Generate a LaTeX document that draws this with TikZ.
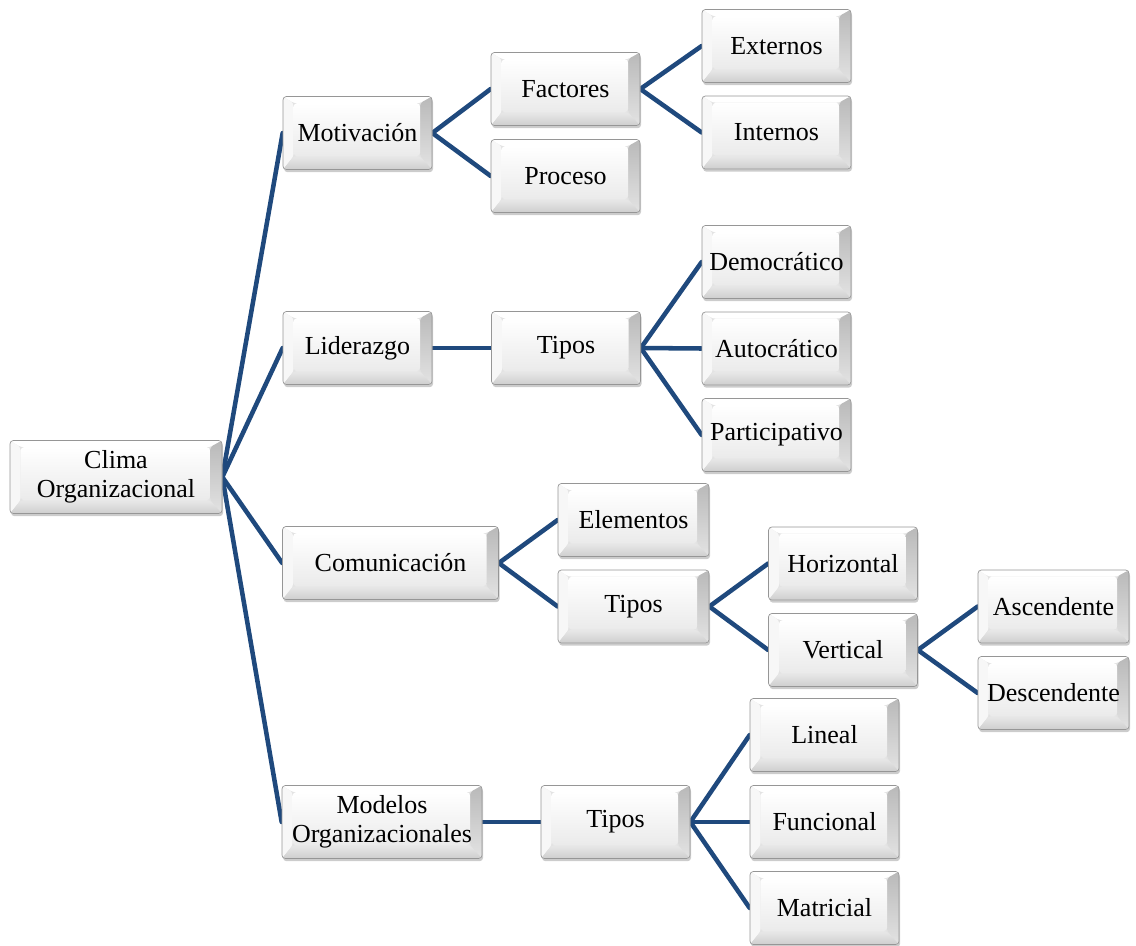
\documentclass[tikz,border=0pt]{standalone}
\usepackage{fontspec}
\setmainfont{Liberation Serif}
\usetikzlibrary{shadows,backgrounds}

\definecolor{azulrama}{RGB}{31,73,125}
\definecolor{grisborde}{RGB}{150,150,150}

\tikzset{
	boton/.style={rectangle, rounded corners=2.5pt, draw=grisborde, line width=0.5pt,
		minimum width=111.75pt, minimum height=54.75pt, inner sep=1pt, align=center,
		font=\fontsize{19.5}{21.5}\selectfont, fill=gray!20,
		drop shadow={shadow xshift=0.8pt, shadow yshift=-2pt, opacity=0.4},
		path picture={
			\coordinate (bsw) at (path picture bounding box.south west);
			\coordinate (bse) at (path picture bounding box.south east);
			\coordinate (bnw) at (path picture bounding box.north west);
			\coordinate (bne) at (path picture bounding box.north east);
			\coordinate (isw) at ([shift={(8pt,10pt)}]bsw);
			\coordinate (ise) at ([shift={(-9pt,10pt)}]bse);
			\coordinate (inw) at ([shift={(8pt,-5pt)}]bnw);
			\coordinate (ine) at ([shift={(-9pt,-5pt)}]bne);
			\fill[gray!22] (bsw) rectangle (bne);
			\fill[white] (bnw) -- (bne) -- (ine) -- (inw) -- cycle;
			\fill[gray!6] (bnw) -- (inw) -- (isw) -- (bsw) -- cycle;
			\shade[top color=gray!55, bottom color=gray!22] (bne) -- (bse) -- (ise) -- (ine) -- cycle;
			\shade[top color=gray!18, bottom color=gray!38] (bsw) -- (isw) -- (ise) -- (bse) -- cycle;
			\shade[top color=white, bottom color=gray!16] (inw) rectangle (ise);
		}},
	rama/.style={azulrama, line width=3.4pt, line cap=round},
}

\begin{document}
\begin{tikzpicture}[x=0.75pt, y=-0.75pt]
\useasboundingbox (0,0) rectangle (1136,946);

%% Raiz
\node[boton, minimum width=159pt] (clima) at (116,477) {Clima\\Organizacional};

%% Motivacion
\node[boton] (motiv) at (357.5,133) {Motivación};
\node[boton] (factores) at (565.5,89) {Factores};
\node[boton] (proceso) at (565.5,176) {Proceso};
\node[boton] (externos) at (776.5,46) {Externos};
\node[boton] (internos) at (776.5,132.5) {Internos};

%% Liderazgo
\node[boton] (lider) at (357.5,348) {Liderazgo};
\node[boton] (tiposlid) at (566,348) {Tipos};
\node[boton] (democ) at (776.5,262) {Democrático};
\node[boton] (autoc) at (776.5,348.5) {Autocrático};
\node[boton] (partic) at (776.5,435) {Participativo};

%% Comunicacion
\node[boton, minimum width=162pt] (comun) at (390.5,563) {Comunicación};
\node[boton, minimum width=113.25pt] (elem) at (633.5,520) {Elementos};
\node[boton, minimum width=113.25pt] (tiposcom) at (633.5,606.5) {Tipos};
\node[boton] (horiz) at (843,563.5) {Horizontal};
\node[boton] (vert) at (843,650) {Vertical};
\node[boton, minimum width=113.25pt] (ascen) at (1053.5,606.5) {Ascendente};
\node[boton, minimum width=113.25pt] (descen) at (1053.5,693) {Descendente};

%% Modelos
\node[boton, minimum width=150pt] (modelos) at (382,822) {Modelos\\Organizacionales};
\node[boton] (tiposmod) at (615.5,822) {Tipos};
\node[boton] (lineal) at (824.5,735) {Lineal};
\node[boton] (funcional) at (824.5,822) {Funcional};
\node[boton] (matricial) at (824.5,908) {Matricial};

%% Ramas
\begin{scope}[on background layer]
	\draw[rama] (clima.east) -- (motiv.west);
	\draw[rama] (clima.east) -- (lider.west);
	\draw[rama] (clima.east) -- (comun.west);
	\draw[rama] (clima.east) -- (modelos.west);
	\draw[rama] (motiv.east) -- (factores.west);
	\draw[rama] (motiv.east) -- (proceso.west);
	\draw[rama] (factores.east) -- (externos.west);
	\draw[rama] (factores.east) -- (internos.west);
	\draw[rama] (lider.east) -- (tiposlid.west);
	\draw[rama] (tiposlid.east) -- (democ.west);
	\draw[rama] (tiposlid.east) -- (autoc.west);
	\draw[rama] (tiposlid.east) -- (partic.west);
	\draw[rama] (comun.east) -- (elem.west);
	\draw[rama] (comun.east) -- (tiposcom.west);
	\draw[rama] (tiposcom.east) -- (horiz.west);
	\draw[rama] (tiposcom.east) -- (vert.west);
	\draw[rama] (vert.east) -- (ascen.west);
	\draw[rama] (vert.east) -- (descen.west);
	\draw[rama] (modelos.east) -- (tiposmod.west);
	\draw[rama] (tiposmod.east) -- (lineal.west);
	\draw[rama] (tiposmod.east) -- (funcional.west);
	\draw[rama] (tiposmod.east) -- (matricial.west);
\end{scope}
\end{tikzpicture}
\end{document}
